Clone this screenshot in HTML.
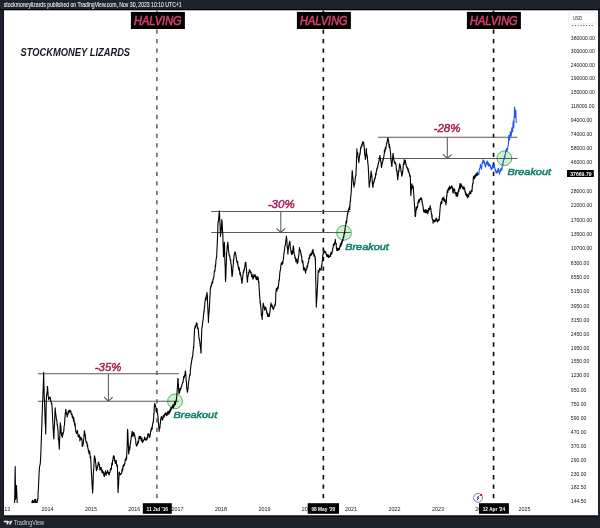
<!DOCTYPE html>
<html><head><meta charset="utf-8"><style>
html,body{margin:0;padding:0;}
body{width:600px;height:528px;overflow:hidden;background:#1e222d;position:relative;font-family:"Liberation Sans",sans-serif;}
svg{position:absolute;left:0;top:0;will-change:transform;}
.pl{font-size:5.1px;fill:#131722;}
.pb{font-size:5.3px;fill:#fff;font-weight:bold;}
.yl{font-size:5.4px;fill:#131722;text-anchor:middle;}
.gl{stroke:#585858;stroke-width:1.05;}
.pct{font-size:11.5px;fill:#a81b56;stroke:#a81b56;stroke-width:0.45;font-style:italic;}
.bo{font-size:9.7px;fill:#15806f;stroke:#15806f;stroke-width:0.55;font-style:italic;}
.hv{font-size:12.8px;fill:#d9416f;stroke:#d9416f;stroke-width:0.55;font-style:italic;}
.db{font-size:5.4px;fill:#fff;font-weight:bold;}
.ev{font-size:5px;fill:#9c27b0;font-weight:bold;}
.title{font-size:10.5px;fill:#131722;font-weight:bold;font-style:italic;}
.top{font-size:7.1px;fill:#e6e8ee;stroke:#e6e8ee;stroke-width:0.12;}
</style></head><body>
<svg width="600" height="528" viewBox="0 0 600 528">
<defs><clipPath id="pane"><rect x="4" y="10" width="594" height="493"/></clipPath></defs>
<rect x="0" y="0" width="600" height="528" fill="#1e222d"/>
<rect x="0" y="9" width="600" height="1.2" fill="#000"/>
<rect x="3.5" y="9.8" width="594.5" height="506.8" fill="#000"/>
<rect x="4" y="10.3" width="594" height="505" fill="#fff"/>
<text x="3.7" y="7.1" class="top" textLength="178" lengthAdjust="spacingAndGlyphs">stockmoneylizards published on TradingView.com, Nov 30, 2023 10:10 UTC+1</text>
<text x="570.8" y="39.5" class="pl">380000.00</text><text x="570.8" y="53.4" class="pl">300000.00</text><text x="570.8" y="66.5" class="pl">240000.00</text><text x="570.8" y="80.3" class="pl">190000.00</text><text x="570.8" y="94.2" class="pl">150000.00</text><text x="570.8" y="108.3" class="pl">118000.00</text><text x="570.8" y="121.7" class="pl">94000.00</text><text x="570.8" y="135.8" class="pl">74000.00</text><text x="570.8" y="150.1" class="pl">58000.00</text><text x="570.8" y="163.8" class="pl">46000.00</text><text x="570.8" y="193.0" class="pl">28000.00</text><text x="570.8" y="207.2" class="pl">22000.00</text><text x="570.8" y="222.3" class="pl">17000.00</text><text x="570.8" y="235.9" class="pl">13500.00</text><text x="570.8" y="249.6" class="pl">10700.00</text><text x="570.8" y="264.5" class="pl">8300.00</text><text x="570.8" y="278.5" class="pl">6550.00</text><text x="570.8" y="292.6" class="pl">5150.00</text><text x="570.8" y="308.2" class="pl">3950.00</text><text x="570.8" y="321.5" class="pl">3150.00</text><text x="570.8" y="336.3" class="pl">2450.00</text><text x="570.8" y="349.8" class="pl">1950.00</text><text x="570.8" y="363.3" class="pl">1550.00</text><text x="570.8" y="376.9" class="pl">1230.00</text><text x="570.8" y="392.1" class="pl">950.00</text><text x="570.8" y="406.0" class="pl">750.00</text><text x="570.8" y="420.1" class="pl">590.00</text><text x="570.8" y="433.5" class="pl">470.00</text><text x="570.8" y="447.6" class="pl">370.00</text><text x="570.8" y="461.9" class="pl">290.00</text><text x="570.8" y="475.5" class="pl">230.00</text><text x="570.8" y="489.2" class="pl">182.50</text><text x="570.8" y="502.9" class="pl">144.50</text><rect x="567" y="170" width="26.8" height="7" fill="#000"/><text x="570.2" y="175.9" class="pb" textLength="21.4" lengthAdjust="spacingAndGlyphs">37669.79</text><rect x="568.5" y="12.3" width="28" height="11.5" rx="1.5" fill="#fff" stroke="#e0e3eb" stroke-width="0.6"/><text x="572.9" y="19.9" class="pl" style="font-size:5.8px" textLength="9.2" lengthAdjust="spacingAndGlyphs">USD</text><line x1="572" y1="25.6" x2="594" y2="25.6" stroke="#555" stroke-width="0.9" stroke-dasharray="1.2 1.6"/><text x="4.2" y="511" class="yl">2013</text><text x="47.5" y="511" class="yl">2014</text><text x="90.9" y="511" class="yl">2015</text><text x="134.3" y="511" class="yl">2016</text><text x="177.6" y="511" class="yl">2017</text><text x="221.0" y="511" class="yl">2018</text><text x="264.4" y="511" class="yl">2019</text><text x="307.8" y="511" class="yl">2020</text><text x="351.1" y="511" class="yl">2021</text><text x="394.5" y="511" class="yl">2022</text><text x="437.9" y="511" class="yl">2023</text><text x="481.2" y="511" class="yl">2024</text><text x="524.6" y="511" class="yl">2025</text><line x1="156.9" y1="10.56" x2="156.9" y2="503" stroke="#686868" stroke-width="1.6" stroke-dasharray="4.3 5.18"/><line x1="323.35" y1="10.56" x2="323.35" y2="503" stroke="#080808" stroke-width="1.6" stroke-dasharray="4.3 5.18"/><line x1="493.55" y1="10.56" x2="493.55" y2="503" stroke="#080808" stroke-width="1.6" stroke-dasharray="4.3 5.18"/><circle cx="175" cy="401.4" r="7.4" fill="#cdf4cf" stroke="#3a9a4c" stroke-width="0.8"/><circle cx="344" cy="232.8" r="7.4" fill="#cdf4cf" stroke="#3a9a4c" stroke-width="0.8"/><circle cx="504.4" cy="158.3" r="7.4" fill="#cdf4cf" stroke="#3a9a4c" stroke-width="0.8"/><line x1="37.8" y1="373.8" x2="178.8" y2="373.8" class="gl"/><line x1="37.8" y1="401.2" x2="178.8" y2="401.2" class="gl"/><line x1="108.4" y1="373.8" x2="108.4" y2="401.2" class="gl"/><polyline points="104.10000000000001,397.09999999999997 108.4,401.2 112.7,397.09999999999997" class="gl" fill="none"/><line x1="211.25" y1="211.5" x2="350.5" y2="211.5" class="gl"/><line x1="211.25" y1="232.5" x2="350.5" y2="232.5" class="gl"/><line x1="280.8" y1="211.5" x2="280.8" y2="232.5" class="gl"/><polyline points="276.5,228.4 280.8,232.5 285.1,228.4" class="gl" fill="none"/><line x1="378" y1="137.3" x2="517.4" y2="137.3" class="gl"/><line x1="378" y1="158.4" x2="517.4" y2="158.4" class="gl"/><line x1="447.3" y1="137.3" x2="447.3" y2="158.4" class="gl"/><polyline points="443.0,154.3 447.3,158.4 451.6,154.3" class="gl" fill="none"/><g clip-path="url(#pane)"><path d="M4.0,560.8 L4.2,558.9 L4.3,559.7 L4.5,558.8 L4.6,558.0 L4.8,556.3 L4.9,556.3 L5.0,557.3 L5.2,556.4 L5.3,557.4 L5.5,556.0 L5.7,557.1 L5.8,556.5 L6.0,555.3 L6.1,555.5 L6.2,554.3 L6.4,554.0 L6.5,553.0 L6.7,549.3 L6.8,548.8 L7.0,547.2 L7.2,547.0 L7.3,546.4 L7.5,547.9 L7.6,545.4 L7.8,545.6 L7.9,545.8 L8.1,545.6 L8.2,545.4 L8.3,546.3 L8.5,547.3 L8.7,546.9 L8.8,545.5 L8.9,544.8 L9.1,543.0 L9.2,543.5 L9.4,543.2 L9.6,543.3 L9.7,541.9 L9.9,539.3 L10.0,540.2 L10.2,539.0 L10.3,538.8 L10.4,539.3 L10.6,537.4 L10.8,536.4 L10.9,536.8 L11.1,535.0 L11.2,534.1 L11.3,533.9 L11.5,533.7 L11.6,532.8 L11.8,532.0 L11.9,531.5 L12.1,531.2 L12.2,529.7 L12.4,532.0 L12.5,532.8 L12.7,533.0 L12.8,532.5 L13.0,529.2 L13.1,526.0 L13.3,523.2 L13.4,523.3 L13.6,520.9 L13.7,517.6 L13.9,515.1 L14.0,512.6 L14.2,510.5 L14.3,507.0 L14.5,505.9 L14.6,502.2 L14.8,493.2 L14.9,484.7 L15.0,476.3 L15.2,466.5 L15.3,477.0 L15.5,487.7 L15.6,499.5 L15.8,497.7 L15.9,495.4 L16.1,491.7 L16.2,488.9 L16.4,488.7 L16.5,485.6 L16.6,488.8 L16.8,492.1 L16.9,497.5 L17.1,497.9 L17.2,503.4 L17.4,509.8 L17.5,516.6 L17.7,525.2 L17.8,532.6 L18.0,540.2 L18.1,541.0 L18.3,540.6 L18.4,541.1 L18.6,541.3 L18.7,541.7 L18.9,542.2 L19.0,541.4 L19.2,539.2 L19.3,540.1 L19.5,539.2 L19.6,537.3 L19.8,537.9 L19.9,538.7 L20.1,538.5 L20.2,538.3 L20.4,537.2 L20.5,537.8 L20.7,536.9 L20.8,537.3 L21.0,538.2 L21.1,538.4 L21.3,540.3 L21.4,541.5 L21.6,539.8 L21.7,538.7 L21.9,540.1 L22.0,538.9 L22.2,539.6 L22.3,540.2 L22.5,539.1 L22.6,542.1 L22.8,539.8 L22.9,541.2 L23.1,543.2 L23.2,542.9 L23.4,541.5 L23.5,542.1 L23.7,542.2 L23.8,541.9 L24.0,541.6 L24.1,541.8 L24.3,542.6 L24.4,541.2 L24.6,542.3 L24.7,540.3 L24.9,540.3 L25.0,541.2 L25.2,541.1 L25.3,540.8 L25.5,540.7 L25.6,542.6 L25.8,542.8 L25.9,543.1 L26.1,541.4 L26.2,541.7 L26.4,541.3 L26.5,542.8 L26.7,541.7 L26.8,541.5 L27.0,542.0 L27.1,542.6 L27.3,542.8 L27.4,541.0 L27.6,540.7 L27.7,542.0 L27.9,541.2 L28.0,540.8 L28.2,539.7 L28.3,541.3 L28.5,542.6 L28.6,542.1 L28.8,541.3 L28.9,543.1 L29.1,542.5 L29.2,542.2 L29.4,541.4 L29.5,541.6 L29.7,539.3 L29.8,542.0 L30.0,541.9 L30.1,541.7 L30.3,542.3 L30.4,543.1 L30.6,541.1 L30.7,539.1 L30.9,539.1 L31.0,539.6 L31.1,534.1 L31.3,527.4 L31.4,522.5 L31.6,516.3 L31.7,511.1 L31.9,504.9 L32.0,501.6 L32.1,501.0 L32.3,501.5 L32.4,502.2 L32.6,500.2 L32.7,501.0 L32.9,502.7 L33.0,502.3 L33.2,501.9 L33.3,504.3 L33.5,504.1 L33.6,504.5 L33.8,502.1 L33.9,501.2 L34.1,500.4 L34.2,500.4 L34.4,500.0 L34.5,500.8 L34.7,500.6 L34.8,501.9 L35.0,499.2 L35.2,500.8 L35.3,499.6 L35.5,499.3 L35.6,502.4 L35.8,501.6 L35.9,502.9 L36.1,503.6 L36.2,503.7 L36.4,501.9 L36.5,501.9 L36.7,502.3 L36.8,502.2 L37.0,503.7 L37.1,502.5 L37.3,499.3 L37.4,500.8 L37.6,500.7 L37.7,499.4 L37.9,498.6 L38.0,496.5 L38.1,491.9 L38.3,489.9 L38.4,489.0 L38.6,484.4 L38.7,481.7 L38.9,477.9 L39.0,475.5 L39.1,472.5 L39.3,470.6 L39.4,468.8 L39.6,466.2 L39.7,466.1 L39.9,465.4 L40.0,465.0 L40.1,464.6 L40.3,463.4 L40.4,461.0 L40.6,458.9 L40.7,455.6 L40.9,452.0 L41.0,449.5 L41.1,445.7 L41.3,440.9 L41.4,438.0 L41.6,432.0 L41.7,429.1 L41.9,424.6 L42.0,419.4 L42.1,416.0 L42.3,410.4 L42.4,407.4 L42.6,401.7 L42.7,400.7 L42.9,396.9 L43.0,391.9 L43.2,389.0 L43.3,384.2 L43.5,379.4 L43.6,372.5 L43.8,378.3 L43.9,384.5 L44.1,389.1 L44.2,396.1 L44.4,399.5 L44.5,401.9 L44.7,406.4 L44.8,409.7 L45.0,415.4 L45.1,418.4 L45.2,421.7 L45.4,425.6 L45.6,426.9 L45.7,433.9 L45.9,425.3 L46.0,416.8 L46.1,408.5 L46.3,400.1 L46.4,397.6 L46.6,394.6 L46.8,394.9 L46.9,394.4 L47.0,392.3 L47.2,390.6 L47.4,386.4 L47.5,386.5 L47.6,387.2 L47.8,390.2 L48.0,392.7 L48.1,394.6 L48.2,396.3 L48.4,397.0 L48.6,399.1 L48.7,400.0 L48.9,397.8 L49.0,397.5 L49.2,397.8 L49.3,398.1 L49.5,398.2 L49.6,398.1 L49.8,397.4 L49.9,397.4 L50.1,397.1 L50.2,397.2 L50.4,398.3 L50.6,399.7 L50.7,400.9 L50.9,400.6 L51.0,401.3 L51.2,401.9 L51.3,403.1 L51.5,403.5 L51.6,404.0 L51.8,403.5 L51.9,405.9 L52.1,406.5 L52.2,409.5 L52.4,414.0 L52.5,415.3 L52.7,420.1 L52.8,420.9 L53.0,425.1 L53.1,427.9 L53.3,430.5 L53.4,433.0 L53.6,436.0 L53.7,437.7 L53.9,439.0 L54.0,434.5 L54.1,431.0 L54.3,428.0 L54.5,425.0 L54.6,422.4 L54.8,417.1 L54.9,412.5 L55.1,409.2 L55.2,407.9 L55.4,411.7 L55.5,411.4 L55.6,412.5 L55.8,414.9 L56.0,415.0 L56.1,417.1 L56.2,416.9 L56.4,419.5 L56.6,420.5 L56.7,419.9 L56.9,420.7 L57.0,422.3 L57.2,424.9 L57.3,424.2 L57.5,426.1 L57.6,426.1 L57.8,429.1 L57.9,430.3 L58.1,431.1 L58.2,435.0 L58.4,438.5 L58.5,439.9 L58.7,438.3 L58.9,442.7 L59.0,445.1 L59.1,445.5 L59.3,449.2 L59.4,446.8 L59.6,440.8 L59.7,437.6 L59.9,435.4 L60.0,431.3 L60.2,424.8 L60.3,422.8 L60.4,425.9 L60.6,427.3 L60.8,425.2 L60.9,428.1 L61.0,429.6 L61.2,433.4 L61.4,433.4 L61.5,434.3 L61.6,435.7 L61.8,433.0 L62.0,433.0 L62.1,433.5 L62.2,437.0 L62.4,437.4 L62.5,436.2 L62.7,435.6 L62.8,434.7 L63.0,433.8 L63.1,432.8 L63.3,432.7 L63.4,432.9 L63.6,431.9 L63.7,430.4 L63.9,430.7 L64.0,427.2 L64.2,426.0 L64.3,425.7 L64.5,424.8 L64.6,422.5 L64.8,419.6 L64.9,418.5 L65.0,417.3 L65.2,414.7 L65.3,412.8 L65.5,413.6 L65.6,411.2 L65.8,409.5 L65.9,409.4 L66.1,412.5 L66.2,413.4 L66.4,412.6 L66.5,414.3 L66.7,414.3 L66.8,414.7 L67.0,414.6 L67.1,416.9 L67.3,416.5 L67.4,415.4 L67.6,414.5 L67.7,415.2 L67.9,412.1 L68.0,411.8 L68.2,413.9 L68.3,411.9 L68.5,410.8 L68.6,411.7 L68.8,411.0 L69.0,412.1 L69.1,411.9 L69.3,411.5 L69.4,410.0 L69.6,410.6 L69.7,411.9 L69.9,412.2 L70.0,410.7 L70.2,410.4 L70.3,411.9 L70.5,410.7 L70.6,411.4 L70.8,411.1 L70.9,411.3 L71.1,413.1 L71.2,414.0 L71.4,414.6 L71.5,413.9 L71.7,414.1 L71.9,414.7 L72.0,413.7 L72.2,416.7 L72.3,417.7 L72.5,417.1 L72.6,416.8 L72.8,416.1 L72.9,418.3 L73.1,418.4 L73.2,417.5 L73.4,419.1 L73.5,421.3 L73.7,420.2 L73.8,417.8 L74.0,420.2 L74.2,421.5 L74.3,422.9 L74.5,423.9 L74.6,423.5 L74.8,425.7 L74.9,424.5 L75.0,423.0 L75.2,424.8 L75.4,427.9 L75.5,428.9 L75.7,429.6 L75.8,431.4 L75.9,431.3 L76.1,432.7 L76.2,432.6 L76.4,432.3 L76.5,433.5 L76.7,433.3 L76.8,432.3 L77.0,431.5 L77.1,431.8 L77.3,430.3 L77.4,431.4 L77.6,431.0 L77.7,432.8 L77.8,434.5 L78.0,434.4 L78.1,436.2 L78.3,435.7 L78.4,436.9 L78.6,437.0 L78.7,435.8 L78.9,435.7 L79.0,436.1 L79.2,434.9 L79.3,435.4 L79.5,436.8 L79.6,436.2 L79.8,438.1 L79.9,440.9 L80.1,438.0 L80.2,438.3 L80.4,437.1 L80.5,438.7 L80.7,438.0 L80.8,439.2 L81.0,438.7 L81.1,437.6 L81.3,439.6 L81.4,438.5 L81.6,438.4 L81.7,438.9 L81.9,439.0 L82.1,441.9 L82.2,445.8 L82.3,446.5 L82.5,445.9 L82.7,444.3 L82.8,446.1 L83.0,444.5 L83.1,444.3 L83.3,443.9 L83.4,441.2 L83.6,440.2 L83.7,439.8 L83.9,437.4 L84.0,434.5 L84.2,433.2 L84.3,431.2 L84.5,430.7 L84.7,431.7 L84.8,433.4 L85.0,435.6 L85.1,435.2 L85.3,434.8 L85.4,436.1 L85.6,438.1 L85.7,439.9 L85.9,440.9 L86.0,442.3 L86.2,442.4 L86.3,442.7 L86.5,442.8 L86.6,442.4 L86.8,442.0 L86.9,443.2 L87.1,444.5 L87.2,446.0 L87.4,446.6 L87.5,444.6 L87.7,445.2 L87.8,448.0 L88.0,448.9 L88.1,448.5 L88.3,449.9 L88.4,451.4 L88.6,451.7 L88.7,451.7 L88.9,451.6 L89.0,453.8 L89.2,453.6 L89.3,450.9 L89.5,453.1 L89.6,451.2 L89.8,452.5 L89.9,453.6 L90.1,455.6 L90.2,457.5 L90.4,457.9 L90.5,457.6 L90.7,456.9 L90.8,460.7 L91.0,463.3 L91.1,467.6 L91.3,469.2 L91.4,473.7 L91.6,474.9 L91.7,477.4 L91.9,480.4 L92.0,483.5 L92.2,486.3 L92.3,488.7 L92.5,489.9 L92.6,493.0 L92.8,489.7 L92.9,488.7 L93.0,485.2 L93.2,481.1 L93.3,474.7 L93.5,471.1 L93.6,469.8 L93.8,468.9 L93.9,464.2 L94.1,462.6 L94.2,459.6 L94.4,456.5 L94.5,455.7 L94.6,456.5 L94.8,456.4 L94.9,458.1 L95.1,458.2 L95.2,459.2 L95.4,460.2 L95.5,462.6 L95.7,463.2 L95.8,463.1 L96.0,466.9 L96.1,465.5 L96.3,468.5 L96.4,470.7 L96.5,468.7 L96.7,469.5 L96.8,467.7 L97.0,467.6 L97.1,469.7 L97.3,468.7 L97.4,467.4 L97.6,466.9 L97.7,465.3 L97.9,466.4 L98.0,465.0 L98.2,463.6 L98.3,462.0 L98.4,462.3 L98.6,462.3 L98.7,462.4 L98.9,463.6 L99.0,464.4 L99.2,464.1 L99.3,464.8 L99.5,464.9 L99.6,467.1 L99.8,468.1 L99.9,469.9 L100.1,468.6 L100.2,467.5 L100.4,469.6 L100.5,468.3 L100.7,469.7 L100.8,468.7 L101.0,469.1 L101.1,467.3 L101.2,469.3 L101.4,469.1 L101.5,468.9 L101.7,470.4 L101.8,470.6 L102.0,472.6 L102.2,472.2 L102.3,470.4 L102.5,472.5 L102.6,472.9 L102.8,470.9 L102.9,471.8 L103.1,471.7 L103.2,472.6 L103.4,473.2 L103.5,472.6 L103.7,474.0 L103.8,475.7 L104.0,476.0 L104.1,475.1 L104.3,476.2 L104.4,476.5 L104.6,473.0 L104.7,474.4 L104.9,473.2 L105.0,473.6 L105.2,472.7 L105.3,473.1 L105.5,470.7 L105.6,471.5 L105.8,471.9 L105.9,474.3 L106.1,475.5 L106.2,475.0 L106.4,472.9 L106.5,473.4 L106.7,473.0 L106.8,473.0 L106.9,472.9 L107.1,472.7 L107.2,472.5 L107.4,472.1 L107.5,470.4 L107.7,470.8 L107.8,471.3 L108.0,473.2 L108.1,472.9 L108.3,473.0 L108.4,472.5 L108.6,474.3 L108.7,474.0 L108.8,473.7 L109.0,474.0 L109.1,472.7 L109.3,475.0 L109.4,472.5 L109.6,472.5 L109.7,472.8 L109.9,472.8 L110.0,471.9 L110.2,470.9 L110.3,470.3 L110.5,469.0 L110.6,468.6 L110.8,470.1 L110.9,469.6 L111.1,469.6 L111.2,469.6 L111.4,468.2 L111.5,467.2 L111.6,466.2 L111.8,463.1 L111.9,464.1 L112.1,463.8 L112.2,463.1 L112.4,464.7 L112.5,461.1 L112.7,460.2 L112.8,460.5 L113.0,460.4 L113.1,457.2 L113.3,458.2 L113.4,456.3 L113.5,455.8 L113.7,456.4 L113.8,455.6 L114.0,456.3 L114.1,456.5 L114.3,457.2 L114.4,458.1 L114.6,460.9 L114.7,461.0 L114.9,460.1 L115.0,460.8 L115.2,462.1 L115.3,463.4 L115.5,462.4 L115.6,462.6 L115.8,461.6 L115.9,462.6 L116.1,463.0 L116.2,460.2 L116.4,462.5 L116.5,464.2 L116.7,464.8 L116.8,466.2 L117.0,465.5 L117.1,464.9 L117.3,465.1 L117.5,468.2 L117.6,475.0 L117.8,480.6 L117.9,488.0 L118.1,492.4 L118.2,489.7 L118.4,486.8 L118.5,484.9 L118.7,483.5 L118.8,478.4 L119.0,476.7 L119.1,472.5 L119.2,472.5 L119.4,472.0 L119.5,472.9 L119.7,474.7 L119.8,475.0 L120.0,474.5 L120.1,473.9 L120.3,474.8 L120.4,474.8 L120.6,474.3 L120.7,473.7 L120.9,473.8 L121.0,474.0 L121.2,473.8 L121.3,473.8 L121.5,473.1 L121.6,473.6 L121.8,471.4 L121.9,471.0 L122.1,469.5 L122.2,470.1 L122.4,468.3 L122.5,471.0 L122.7,470.2 L122.8,469.0 L123.0,466.3 L123.1,465.6 L123.3,466.6 L123.4,465.3 L123.6,465.9 L123.7,466.3 L123.9,464.3 L124.0,464.7 L124.2,464.2 L124.3,464.8 L124.5,465.1 L124.6,463.4 L124.8,463.7 L124.9,463.4 L125.1,461.0 L125.2,459.6 L125.4,459.6 L125.5,459.4 L125.7,459.6 L125.8,459.6 L126.0,457.8 L126.1,460.2 L126.3,459.0 L126.4,459.2 L126.6,458.2 L126.7,456.4 L126.8,452.9 L127.0,449.1 L127.2,444.5 L127.3,440.6 L127.4,432.4 L127.6,429.2 L127.7,431.1 L127.9,433.6 L128.0,436.9 L128.2,441.5 L128.3,444.4 L128.5,447.2 L128.6,453.4 L128.7,453.9 L128.9,452.0 L129.0,449.5 L129.2,450.3 L129.3,451.0 L129.5,446.9 L129.6,449.3 L129.8,449.4 L129.9,448.1 L130.1,446.1 L130.2,444.7 L130.4,443.1 L130.5,443.6 L130.7,441.1 L130.8,440.7 L130.9,439.9 L131.1,439.1 L131.2,436.4 L131.4,436.6 L131.6,435.0 L131.7,434.9 L131.9,433.3 L132.0,432.7 L132.2,431.4 L132.3,433.1 L132.5,431.7 L132.6,434.5 L132.8,436.4 L132.9,435.2 L133.1,436.5 L133.2,434.6 L133.4,433.1 L133.5,434.1 L133.7,433.7 L133.8,432.4 L134.0,433.7 L134.1,433.7 L134.3,433.4 L134.4,435.4 L134.6,435.5 L134.8,435.2 L134.9,436.0 L135.0,437.6 L135.2,437.9 L135.3,438.3 L135.5,439.4 L135.7,439.8 L135.8,442.3 L135.9,443.4 L136.1,444.7 L136.3,445.2 L136.4,445.5 L136.6,445.2 L136.7,446.1 L136.9,445.0 L137.0,444.8 L137.2,444.2 L137.3,444.9 L137.5,443.1 L137.6,444.1 L137.8,442.7 L137.9,441.2 L138.1,443.4 L138.2,441.5 L138.4,442.6 L138.5,441.3 L138.7,441.0 L138.8,438.7 L139.0,437.7 L139.1,436.4 L139.3,436.3 L139.4,437.7 L139.6,438.8 L139.7,437.7 L139.9,437.7 L140.0,436.6 L140.2,437.7 L140.3,437.2 L140.5,438.1 L140.6,436.4 L140.8,438.4 L140.9,438.7 L141.1,439.5 L141.2,440.8 L141.4,440.0 L141.5,439.9 L141.7,440.6 L141.8,441.5 L142.0,437.8 L142.1,440.6 L142.3,441.7 L142.4,441.7 L142.6,442.7 L142.7,442.4 L142.9,441.3 L143.0,440.9 L143.2,440.7 L143.3,441.1 L143.5,440.8 L143.6,440.0 L143.8,439.9 L143.9,439.5 L144.1,439.5 L144.2,439.4 L144.4,439.4 L144.5,437.1 L144.7,437.2 L144.8,438.3 L145.0,440.0 L145.1,439.0 L145.3,438.2 L145.4,438.6 L145.6,439.8 L145.7,439.0 L145.9,439.3 L146.0,440.3 L146.2,440.3 L146.3,439.0 L146.5,439.9 L146.6,439.2 L146.8,439.0 L146.9,437.5 L147.1,438.6 L147.2,439.1 L147.4,438.2 L147.5,437.6 L147.6,435.8 L147.8,434.1 L147.9,433.9 L148.1,434.3 L148.2,434.9 L148.4,434.1 L148.5,433.8 L148.7,434.7 L148.8,433.9 L149.0,436.6 L149.1,437.5 L149.3,435.9 L149.4,436.4 L149.6,435.8 L149.7,435.9 L149.9,437.2 L150.0,436.0 L150.2,434.1 L150.3,434.8 L150.4,433.6 L150.6,431.6 L150.7,430.3 L150.9,430.1 L151.0,430.6 L151.2,431.0 L151.3,428.5 L151.5,428.2 L151.6,428.5 L151.8,427.2 L151.9,427.7 L152.1,428.3 L152.2,429.2 L152.4,424.9 L152.5,425.2 L152.7,423.7 L152.8,423.2 L153.0,422.8 L153.1,421.6 L153.3,422.4 L153.4,419.8 L153.6,419.3 L153.8,414.2 L153.9,413.1 L154.1,413.2 L154.2,408.1 L154.4,406.6 L154.5,404.8 L154.7,403.2 L154.8,404.0 L155.0,403.8 L155.1,404.8 L155.3,405.7 L155.4,405.5 L155.6,406.7 L155.7,406.7 L155.9,407.9 L156.0,410.0 L156.2,410.8 L156.3,411.8 L156.5,410.5 L156.6,410.9 L156.7,409.4 L156.9,408.4 L157.0,412.1 L157.2,411.7 L157.3,412.8 L157.5,412.9 L157.6,413.4 L157.8,415.3 L157.9,415.8 L158.0,417.2 L158.2,419.6 L158.3,422.7 L158.5,423.7 L158.6,425.1 L158.8,427.9 L158.9,428.2 L159.1,431.3 L159.2,431.0 L159.3,427.9 L159.5,427.7 L159.6,428.2 L159.8,428.3 L159.9,427.8 L160.1,425.1 L160.2,423.4 L160.4,423.9 L160.5,421.9 L160.7,418.9 L160.8,419.1 L160.9,419.4 L161.1,418.1 L161.2,417.0 L161.4,416.5 L161.5,417.3 L161.7,417.0 L161.8,417.9 L162.0,419.3 L162.1,418.2 L162.3,417.8 L162.4,419.1 L162.6,418.0 L162.7,420.3 L162.9,417.9 L163.0,418.3 L163.2,417.2 L163.3,415.5 L163.5,416.5 L163.6,416.6 L163.8,417.2 L163.9,415.9 L164.1,414.8 L164.2,417.0 L164.4,416.1 L164.5,414.9 L164.7,414.6 L164.8,415.2 L165.0,414.4 L165.1,413.2 L165.3,413.8 L165.4,414.5 L165.6,413.5 L165.7,414.2 L165.9,412.7 L166.0,413.3 L166.2,414.3 L166.3,413.9 L166.5,415.6 L166.6,414.1 L166.8,413.3 L166.9,415.4 L167.1,414.8 L167.2,415.1 L167.4,414.5 L167.5,412.3 L167.7,411.8 L167.8,413.2 L168.0,412.4 L168.1,411.7 L168.3,412.2 L168.4,412.4 L168.6,411.6 L168.7,414.2 L168.9,414.3 L169.0,413.4 L169.2,412.4 L169.3,411.6 L169.5,410.0 L169.6,410.1 L169.8,412.3 L169.9,412.6 L170.1,410.9 L170.2,410.8 L170.3,410.9 L170.5,410.6 L170.6,409.5 L170.8,407.6 L170.9,409.4 L171.1,409.9 L171.2,409.1 L171.4,408.7 L171.5,408.1 L171.7,407.7 L171.8,407.3 L172.0,406.8 L172.1,407.2 L172.3,407.8 L172.4,406.3 L172.6,405.6 L172.7,405.6 L172.9,404.9 L173.0,406.1 L173.2,405.8 L173.3,408.1 L173.5,407.5 L173.6,406.8 L173.8,406.4 L173.9,406.8 L174.1,403.7 L174.2,405.3 L174.4,403.6 L174.5,403.4 L174.7,402.0 L174.8,402.4 L175.0,401.4 L175.1,401.8 L175.3,402.6 L175.4,404.6 L175.6,402.9 L175.7,402.6 L175.9,402.0 L176.0,400.8 L176.2,400.6 L176.3,399.6 L176.5,398.7 L176.6,397.4 L176.8,395.9 L176.9,394.3 L177.0,392.7 L177.2,390.3 L177.3,388.3 L177.5,386.3 L177.6,384.1 L177.8,380.1 L177.9,378.2 L178.1,379.4 L178.2,382.8 L178.4,384.2 L178.5,386.6 L178.7,390.2 L178.8,392.5 L178.9,393.3 L179.1,393.7 L179.2,392.4 L179.4,391.2 L179.5,392.9 L179.7,391.8 L179.8,390.3 L180.0,388.4 L180.1,390.7 L180.3,390.3 L180.4,389.5 L180.6,388.3 L180.7,388.2 L180.8,388.6 L181.0,388.6 L181.1,387.5 L181.3,386.6 L181.4,386.7 L181.6,386.3 L181.8,385.4 L181.9,385.1 L182.0,384.3 L182.2,384.4 L182.3,383.8 L182.5,382.9 L182.7,382.5 L182.8,382.5 L182.9,381.9 L183.1,382.4 L183.2,380.7 L183.4,379.3 L183.5,379.1 L183.7,376.3 L183.8,378.2 L184.0,377.8 L184.2,377.1 L184.3,376.6 L184.4,377.1 L184.6,375.2 L184.8,375.7 L184.9,374.7 L185.1,373.3 L185.2,371.6 L185.3,371.1 L185.5,371.0 L185.7,372.7 L185.8,374.5 L185.9,375.3 L186.1,379.3 L186.2,381.0 L186.4,381.4 L186.6,384.6 L186.7,388.2 L186.9,388.2 L187.0,388.9 L187.2,390.5 L187.3,392.3 L187.5,391.8 L187.6,391.2 L187.8,389.8 L187.9,387.8 L188.1,387.9 L188.2,387.3 L188.4,383.5 L188.5,382.5 L188.7,381.9 L188.8,380.5 L189.0,380.5 L189.1,378.3 L189.3,376.9 L189.4,376.9 L189.6,376.1 L189.7,375.4 L189.9,374.2 L190.0,374.5 L190.2,374.9 L190.4,369.7 L190.5,369.1 L190.7,368.0 L190.8,366.1 L191.0,365.9 L191.1,363.2 L191.3,363.6 L191.4,362.9 L191.6,362.0 L191.7,360.4 L191.9,359.4 L192.0,357.9 L192.2,359.0 L192.3,357.3 L192.5,357.2 L192.6,355.6 L192.8,355.6 L192.9,353.8 L193.1,351.1 L193.2,350.0 L193.4,349.1 L193.5,346.4 L193.7,347.8 L193.8,345.6 L193.9,343.1 L194.1,339.3 L194.2,336.5 L194.4,332.7 L194.5,329.2 L194.7,328.8 L194.8,327.7 L195.0,328.4 L195.1,325.7 L195.3,326.4 L195.4,327.8 L195.6,325.8 L195.7,327.0 L195.9,325.6 L196.0,325.3 L196.2,324.6 L196.3,322.9 L196.5,324.2 L196.7,323.8 L196.8,324.1 L197.0,323.4 L197.1,324.3 L197.3,326.7 L197.4,327.3 L197.6,328.6 L197.7,328.6 L197.9,329.1 L198.0,327.6 L198.2,328.4 L198.3,329.6 L198.5,331.6 L198.7,334.5 L198.8,336.3 L199.0,337.8 L199.1,339.2 L199.3,338.5 L199.4,339.4 L199.6,340.4 L199.7,341.3 L199.9,343.7 L200.0,342.2 L200.2,346.6 L200.3,345.9 L200.5,346.9 L200.6,349.3 L200.8,349.7 L200.9,352.9 L201.1,352.9 L201.2,345.4 L201.4,341.3 L201.5,336.1 L201.7,333.1 L201.8,327.8 L202.0,327.8 L202.1,327.2 L202.3,326.8 L202.4,325.2 L202.6,323.1 L202.7,321.8 L202.9,320.3 L203.0,320.4 L203.2,318.8 L203.3,317.5 L203.5,314.9 L203.6,313.9 L203.8,313.5 L203.9,311.1 L204.1,312.0 L204.2,309.2 L204.4,307.8 L204.5,307.5 L204.7,306.3 L204.8,304.0 L205.0,301.8 L205.1,300.9 L205.3,300.1 L205.4,298.5 L205.6,297.8 L205.7,299.7 L205.9,299.4 L206.0,300.3 L206.2,297.1 L206.3,295.5 L206.5,296.3 L206.6,295.9 L206.8,293.4 L206.9,292.6 L207.1,293.0 L207.2,294.6 L207.4,296.9 L207.5,301.3 L207.7,303.7 L207.8,306.8 L208.0,311.2 L208.1,314.3 L208.3,318.7 L208.4,322.6 L208.5,319.1 L208.7,315.8 L208.8,314.2 L209.0,313.3 L209.1,311.9 L209.3,309.5 L209.4,308.2 L209.6,304.1 L209.7,302.8 L209.8,299.5 L210.0,296.4 L210.2,293.5 L210.3,289.1 L210.4,288.9 L210.6,287.1 L210.7,288.2 L210.9,285.9 L211.0,286.1 L211.2,286.3 L211.3,286.3 L211.5,285.8 L211.6,284.0 L211.8,282.8 L211.9,282.8 L212.1,283.8 L212.2,281.6 L212.4,283.4 L212.5,282.7 L212.7,282.6 L212.8,280.9 L213.0,279.6 L213.1,280.1 L213.2,278.5 L213.4,278.1 L213.5,278.7 L213.7,277.3 L213.8,277.2 L214.0,276.4 L214.1,273.8 L214.3,272.8 L214.4,270.9 L214.6,271.6 L214.7,271.3 L214.9,271.2 L215.0,270.3 L215.2,268.4 L215.3,265.2 L215.5,266.6 L215.6,264.6 L215.8,263.8 L215.9,260.6 L216.1,260.1 L216.2,259.2 L216.4,257.1 L216.5,257.6 L216.7,256.6 L216.9,251.3 L217.0,248.9 L217.2,245.4 L217.3,241.7 L217.5,237.9 L217.6,235.8 L217.8,231.4 L217.9,225.1 L218.1,222.1 L218.2,221.1 L218.4,221.5 L218.5,220.3 L218.7,218.7 L218.8,216.5 L219.0,214.9 L219.1,213.0 L219.3,212.6 L219.4,210.8 L219.6,215.5 L219.7,219.4 L219.9,221.5 L220.0,224.1 L220.2,227.2 L220.3,231.8 L220.5,236.5 L220.6,234.9 L220.8,234.0 L220.9,232.5 L221.1,231.6 L221.2,230.1 L221.4,226.8 L221.5,225.2 L221.7,222.5 L221.8,219.6 L222.0,221.5 L222.1,221.4 L222.2,224.6 L222.4,228.4 L222.5,230.5 L222.7,231.8 L222.9,236.6 L223.0,243.6 L223.2,246.9 L223.3,250.7 L223.5,256.8 L223.7,252.5 L223.8,250.7 L223.9,248.5 L224.1,246.6 L224.2,243.6 L224.4,242.2 L224.6,247.3 L224.7,254.0 L224.8,258.6 L225.0,263.6 L225.2,266.8 L225.3,272.8 L225.4,279.1 L225.6,281.5 L225.7,279.0 L225.9,275.2 L226.0,271.2 L226.2,266.1 L226.3,262.4 L226.5,258.0 L226.6,252.5 L226.8,252.1 L226.9,251.5 L227.1,247.7 L227.2,248.3 L227.3,245.3 L227.5,244.3 L227.7,243.1 L227.8,242.1 L228.0,244.3 L228.1,244.3 L228.3,247.3 L228.4,249.5 L228.6,250.9 L228.7,251.2 L228.9,253.7 L229.0,253.4 L229.2,255.2 L229.3,255.9 L229.5,256.2 L229.7,255.6 L229.8,256.7 L230.0,258.2 L230.1,258.8 L230.3,260.4 L230.4,260.2 L230.6,259.7 L230.7,260.0 L230.9,264.1 L231.0,263.7 L231.2,264.5 L231.4,266.1 L231.5,268.9 L231.7,271.9 L231.8,273.7 L232.0,276.5 L232.2,276.3 L232.3,274.7 L232.5,273.7 L232.6,273.5 L232.8,269.7 L232.9,267.7 L233.1,266.3 L233.2,265.0 L233.4,263.5 L233.5,259.2 L233.7,259.9 L233.9,258.0 L234.0,256.5 L234.2,254.9 L234.3,255.5 L234.5,253.4 L234.6,253.9 L234.8,253.7 L234.9,251.8 L235.1,251.8 L235.2,253.3 L235.4,252.4 L235.6,253.6 L235.7,254.2 L235.9,255.1 L236.0,255.7 L236.2,258.5 L236.3,257.7 L236.5,259.3 L236.6,260.5 L236.8,261.5 L236.9,261.0 L237.1,261.1 L237.2,262.9 L237.4,261.7 L237.6,261.4 L237.7,262.1 L237.8,265.1 L238.0,264.5 L238.2,267.0 L238.3,267.4 L238.4,266.3 L238.6,268.7 L238.8,269.9 L238.9,270.1 L239.1,270.1 L239.2,267.5 L239.4,269.6 L239.5,269.7 L239.7,272.1 L239.8,274.0 L240.0,274.2 L240.1,274.8 L240.3,273.6 L240.4,272.7 L240.6,274.9 L240.7,275.9 L240.9,276.1 L241.0,275.8 L241.2,277.7 L241.3,279.2 L241.5,279.5 L241.6,281.0 L241.8,280.3 L241.9,283.5 L242.1,282.5 L242.2,282.3 L242.3,279.9 L242.5,278.8 L242.7,277.7 L242.8,276.2 L242.9,275.2 L243.1,274.1 L243.2,273.0 L243.4,271.3 L243.6,272.6 L243.7,270.1 L243.8,271.0 L244.0,270.0 L244.2,270.4 L244.3,269.2 L244.5,268.1 L244.6,268.3 L244.8,266.4 L244.9,266.8 L245.1,264.0 L245.2,262.7 L245.4,263.1 L245.5,263.0 L245.7,262.8 L245.9,262.3 L246.0,265.2 L246.2,267.4 L246.3,268.3 L246.5,270.0 L246.6,272.4 L246.8,274.9 L246.9,275.8 L247.1,279.0 L247.2,279.4 L247.4,282.1 L247.6,280.8 L247.7,278.3 L247.9,275.9 L248.0,276.6 L248.2,275.8 L248.3,274.8 L248.5,273.0 L248.6,272.5 L248.8,272.6 L248.9,273.1 L249.1,272.3 L249.2,270.0 L249.4,270.7 L249.5,270.4 L249.7,269.5 L249.8,270.4 L250.0,270.9 L250.1,270.8 L250.3,272.1 L250.4,271.3 L250.6,272.8 L250.7,272.1 L250.9,271.9 L251.0,273.2 L251.2,272.6 L251.3,274.7 L251.5,276.7 L251.6,276.2 L251.8,274.9 L251.9,275.0 L252.1,274.4 L252.2,274.4 L252.3,276.9 L252.5,276.3 L252.7,277.9 L252.8,278.0 L253.0,279.3 L253.1,276.4 L253.3,278.2 L253.4,277.3 L253.6,278.0 L253.7,276.9 L253.9,275.4 L254.0,274.4 L254.2,275.9 L254.3,275.2 L254.5,275.8 L254.6,276.1 L254.8,275.5 L254.9,275.4 L255.1,275.0 L255.2,276.9 L255.4,275.1 L255.5,276.3 L255.7,275.8 L255.8,278.2 L256.0,277.8 L256.1,278.3 L256.3,279.5 L256.4,279.6 L256.6,278.8 L256.7,279.4 L256.9,278.0 L257.0,276.5 L257.2,278.2 L257.3,279.0 L257.5,279.8 L257.6,278.2 L257.8,277.3 L257.9,278.2 L258.1,277.2 L258.2,277.9 L258.4,280.4 L258.5,280.7 L258.6,282.4 L258.8,281.2 L259.0,284.7 L259.1,288.3 L259.2,289.4 L259.4,291.9 L259.5,295.2 L259.7,296.2 L259.8,297.7 L260.0,299.6 L260.1,302.5 L260.2,301.0 L260.4,304.1 L260.5,303.4 L260.7,305.9 L260.8,307.4 L261.0,308.7 L261.1,310.3 L261.3,314.2 L261.4,315.2 L261.6,315.7 L261.7,314.8 L261.9,314.4 L262.0,317.9 L262.2,319.5 L262.3,315.4 L262.5,314.6 L262.6,313.6 L262.8,309.5 L262.9,307.2 L263.1,305.4 L263.2,303.0 L263.4,304.4 L263.5,304.4 L263.7,305.2 L263.8,306.3 L264.0,306.4 L264.1,307.7 L264.3,307.9 L264.4,308.7 L264.6,310.3 L264.7,309.2 L264.9,309.4 L265.0,307.2 L265.2,309.3 L265.3,308.0 L265.5,307.2 L265.6,307.0 L265.8,308.2 L265.9,309.1 L266.1,308.7 L266.2,308.7 L266.4,310.1 L266.6,311.6 L266.7,313.0 L266.9,311.9 L267.0,314.0 L267.2,314.1 L267.3,313.7 L267.5,313.4 L267.6,315.8 L267.8,316.6 L267.9,316.2 L268.1,315.7 L268.2,314.1 L268.4,316.3 L268.5,315.7 L268.7,315.9 L268.8,315.5 L269.0,316.5 L269.1,315.9 L269.3,316.4 L269.4,315.1 L269.6,313.6 L269.7,312.6 L269.9,312.3 L270.0,311.1 L270.2,308.8 L270.3,307.8 L270.5,307.0 L270.6,305.6 L270.8,304.7 L270.9,305.2 L271.0,302.8 L271.2,304.1 L271.3,306.6 L271.5,305.7 L271.6,305.7 L271.8,306.0 L271.9,304.9 L272.1,305.2 L272.2,306.0 L272.4,305.9 L272.5,307.4 L272.6,307.8 L272.8,308.4 L272.9,308.4 L273.1,309.5 L273.2,307.9 L273.4,309.4 L273.6,308.7 L273.7,307.4 L273.9,308.4 L274.0,307.7 L274.1,307.6 L274.3,306.3 L274.4,305.8 L274.6,305.7 L274.8,305.7 L274.9,304.4 L275.1,303.7 L275.2,305.5 L275.4,303.5 L275.5,302.5 L275.7,298.9 L275.8,293.8 L276.0,291.7 L276.2,290.1 L276.3,288.5 L276.5,289.2 L276.6,289.2 L276.8,289.1 L276.9,291.2 L277.1,290.1 L277.2,288.6 L277.4,287.0 L277.5,288.5 L277.7,288.3 L277.8,287.6 L278.0,288.7 L278.1,287.6 L278.3,287.1 L278.4,286.0 L278.6,284.4 L278.8,283.0 L278.9,280.2 L279.1,280.0 L279.2,280.7 L279.4,279.4 L279.5,277.2 L279.6,276.6 L279.8,272.9 L279.9,272.6 L280.1,270.6 L280.2,270.8 L280.4,270.1 L280.5,269.4 L280.6,268.3 L280.8,266.6 L280.9,265.1 L281.1,264.7 L281.2,263.2 L281.4,262.9 L281.6,263.8 L281.7,263.1 L281.9,264.5 L282.0,264.5 L282.2,261.7 L282.3,264.0 L282.5,263.8 L282.6,263.9 L282.8,263.7 L282.9,261.3 L283.1,261.0 L283.2,260.3 L283.4,258.8 L283.5,258.2 L283.7,256.3 L283.8,253.8 L284.0,253.8 L284.1,252.8 L284.3,251.2 L284.4,249.3 L284.6,249.3 L284.7,247.5 L284.9,246.6 L285.0,245.5 L285.2,245.7 L285.3,245.5 L285.5,244.7 L285.6,242.3 L285.8,240.9 L285.9,240.8 L286.1,239.1 L286.2,238.5 L286.4,236.0 L286.5,238.7 L286.7,237.9 L286.8,239.9 L287.0,242.9 L287.1,245.5 L287.3,248.1 L287.4,246.6 L287.6,248.4 L287.8,253.6 L287.9,254.1 L288.0,252.6 L288.2,249.4 L288.3,248.4 L288.5,249.3 L288.6,247.8 L288.8,245.1 L288.9,245.7 L289.1,244.4 L289.2,244.1 L289.4,242.4 L289.5,242.3 L289.7,242.2 L289.8,241.1 L289.9,243.5 L290.1,243.1 L290.2,246.8 L290.4,247.5 L290.5,248.9 L290.7,249.9 L290.8,249.5 L291.0,251.5 L291.1,252.5 L291.3,252.9 L291.4,252.3 L291.6,254.5 L291.7,252.5 L291.8,251.5 L292.0,251.0 L292.1,252.0 L292.3,253.2 L292.4,253.6 L292.6,253.8 L292.7,252.8 L292.9,251.7 L293.0,248.6 L293.2,246.4 L293.3,245.9 L293.5,246.9 L293.6,248.4 L293.7,248.4 L293.9,252.1 L294.0,252.5 L294.2,253.6 L294.3,254.4 L294.5,255.7 L294.6,255.1 L294.8,255.6 L294.9,257.4 L295.1,258.2 L295.2,257.1 L295.4,257.2 L295.5,258.7 L295.6,258.6 L295.8,260.1 L295.9,261.8 L296.1,260.5 L296.2,258.9 L296.4,260.0 L296.6,259.9 L296.7,260.7 L296.9,259.4 L297.0,261.0 L297.2,263.6 L297.3,263.3 L297.5,261.5 L297.6,262.3 L297.8,262.7 L297.9,261.4 L298.1,261.4 L298.2,258.4 L298.4,258.3 L298.5,256.7 L298.7,255.5 L298.8,255.0 L299.0,253.3 L299.1,251.0 L299.3,250.3 L299.4,247.5 L299.6,250.1 L299.7,249.9 L299.9,249.5 L300.0,250.0 L300.2,250.1 L300.3,250.0 L300.5,252.1 L300.6,251.7 L300.8,253.0 L300.9,253.2 L301.1,254.2 L301.2,255.7 L301.4,254.8 L301.5,256.2 L301.7,257.1 L301.8,259.0 L302.0,261.5 L302.1,261.4 L302.2,260.2 L302.4,262.6 L302.5,262.5 L302.7,260.6 L302.8,261.2 L303.0,262.1 L303.1,263.8 L303.3,266.0 L303.4,267.9 L303.6,270.0 L303.7,269.8 L303.9,267.4 L304.0,269.0 L304.1,269.5 L304.3,270.1 L304.4,268.0 L304.6,267.9 L304.7,267.7 L304.9,268.7 L305.0,269.7 L305.2,270.6 L305.3,271.6 L305.5,271.0 L305.6,273.3 L305.8,269.7 L305.9,270.8 L306.0,269.7 L306.2,269.1 L306.3,269.1 L306.5,269.9 L306.6,269.6 L306.8,268.2 L306.9,267.4 L307.1,265.6 L307.2,265.7 L307.4,265.3 L307.5,267.3 L307.7,265.1 L307.8,264.5 L307.9,263.3 L308.1,263.4 L308.2,263.4 L308.4,261.2 L308.5,261.2 L308.7,261.2 L308.8,258.7 L309.0,257.7 L309.1,258.1 L309.3,257.5 L309.4,258.2 L309.6,258.4 L309.7,255.8 L309.9,254.8 L310.0,255.3 L310.2,254.3 L310.3,254.6 L310.5,254.7 L310.6,256.0 L310.7,254.6 L310.9,254.2 L311.0,253.3 L311.2,255.1 L311.3,255.1 L311.5,254.6 L311.6,253.6 L311.8,254.2 L311.9,253.5 L312.1,251.4 L312.2,253.8 L312.4,250.7 L312.5,250.2 L312.7,251.0 L312.8,250.9 L313.0,249.4 L313.1,250.1 L313.2,251.8 L313.4,252.5 L313.5,254.1 L313.7,253.2 L313.8,253.8 L314.0,254.9 L314.1,256.1 L314.3,255.0 L314.4,255.8 L314.6,254.8 L314.7,256.4 L314.9,256.2 L315.0,256.6 L315.2,259.4 L315.3,257.2 L315.4,263.0 L315.6,269.0 L315.7,277.1 L315.9,283.4 L316.0,291.2 L316.2,299.8 L316.3,307.1 L316.4,303.5 L316.6,302.9 L316.7,300.2 L316.9,298.0 L317.0,295.6 L317.2,293.3 L317.3,289.5 L317.5,287.1 L317.6,284.2 L317.8,282.7 L317.9,277.8 L318.1,274.2 L318.2,271.9 L318.3,270.4 L318.5,271.6 L318.6,271.7 L318.8,270.5 L318.9,270.8 L319.1,272.1 L319.2,271.0 L319.4,270.0 L319.5,269.3 L319.7,268.4 L319.8,268.5 L320.0,269.3 L320.1,269.0 L320.3,269.4 L320.4,269.5 L320.6,269.5 L320.7,269.0 L320.9,269.5 L321.0,270.4 L321.1,269.6 L321.3,269.5 L321.4,265.7 L321.6,265.9 L321.7,266.4 L321.9,265.0 L322.0,263.8 L322.2,261.0 L322.3,261.8 L322.5,260.1 L322.6,257.3 L322.8,256.2 L322.9,254.3 L323.1,254.3 L323.2,253.6 L323.4,252.0 L323.5,253.0 L323.7,253.1 L323.8,253.2 L324.0,252.2 L324.1,252.5 L324.3,250.5 L324.4,250.9 L324.6,252.1 L324.7,251.7 L324.9,251.9 L325.0,252.0 L325.2,252.6 L325.3,252.8 L325.5,252.4 L325.6,251.5 L325.8,252.9 L325.9,253.6 L326.1,253.9 L326.2,253.7 L326.4,255.1 L326.5,255.3 L326.7,255.2 L326.8,254.4 L327.0,256.7 L327.1,256.6 L327.3,255.1 L327.4,255.9 L327.6,256.2 L327.7,256.2 L327.8,256.1 L328.0,254.9 L328.1,254.5 L328.3,256.7 L328.4,255.7 L328.6,257.4 L328.7,255.6 L328.9,256.9 L329.0,257.3 L329.2,256.1 L329.3,257.3 L329.5,256.9 L329.6,256.8 L329.8,255.9 L329.9,255.7 L330.1,256.5 L330.2,256.1 L330.4,256.3 L330.5,256.1 L330.6,254.2 L330.8,253.2 L330.9,253.1 L331.1,252.2 L331.2,252.8 L331.4,253.6 L331.5,254.5 L331.7,254.2 L331.8,253.4 L332.0,253.4 L332.1,252.6 L332.3,251.1 L332.4,250.6 L332.6,250.8 L332.7,248.1 L332.9,248.2 L333.0,248.1 L333.2,246.9 L333.3,244.9 L333.4,244.6 L333.6,244.4 L333.7,245.6 L333.9,245.1 L334.0,243.2 L334.2,243.2 L334.3,244.1 L334.5,245.0 L334.6,243.8 L334.8,242.5 L334.9,242.0 L335.1,241.3 L335.2,239.8 L335.3,239.3 L335.5,242.5 L335.6,242.4 L335.8,243.1 L335.9,243.6 L336.1,244.1 L336.2,243.3 L336.4,248.5 L336.5,247.9 L336.7,249.2 L336.8,250.4 L337.0,248.1 L337.1,249.8 L337.3,249.0 L337.4,249.2 L337.6,249.9 L337.7,250.6 L337.9,249.3 L338.0,248.3 L338.2,250.3 L338.3,249.4 L338.5,249.8 L338.6,248.8 L338.8,248.7 L338.9,248.9 L339.1,249.1 L339.2,249.8 L339.4,247.6 L339.5,249.3 L339.7,248.0 L339.8,247.5 L340.0,245.5 L340.1,245.8 L340.3,244.9 L340.4,243.9 L340.6,245.4 L340.7,245.2 L340.9,246.4 L341.0,244.6 L341.2,243.9 L341.3,242.6 L341.5,243.8 L341.6,241.8 L341.8,244.1 L341.9,241.7 L342.1,240.5 L342.2,242.2 L342.4,241.2 L342.5,241.0 L342.7,239.4 L342.8,239.3 L342.9,240.8 L343.1,239.3 L343.2,237.7 L343.4,236.8 L343.5,237.7 L343.7,236.4 L343.8,237.3 L344.0,233.8 L344.1,234.1 L344.3,233.1 L344.4,234.0 L344.6,233.4 L344.7,232.4 L344.8,230.1 L345.0,230.6 L345.1,228.0 L345.3,227.0 L345.4,226.3 L345.6,225.4 L345.7,225.3 L345.9,223.7 L346.0,223.0 L346.1,221.0 L346.3,223.1 L346.4,222.3 L346.6,222.8 L346.8,220.4 L346.9,217.9 L347.1,217.9 L347.2,215.7 L347.4,214.5 L347.5,215.1 L347.6,212.9 L347.8,213.9 L347.9,213.4 L348.1,211.7 L348.2,210.4 L348.4,210.0 L348.5,210.4 L348.7,208.9 L348.8,209.1 L349.0,208.7 L349.1,208.9 L349.3,207.0 L349.4,208.5 L349.6,205.9 L349.7,209.7 L349.9,207.2 L350.0,204.1 L350.2,201.0 L350.3,201.4 L350.5,201.5 L350.6,197.4 L350.8,196.4 L350.9,196.0 L351.1,193.1 L351.2,191.7 L351.4,187.7 L351.6,184.2 L351.7,181.0 L351.9,177.4 L352.0,174.0 L352.2,170.5 L352.3,172.0 L352.5,171.7 L352.6,176.2 L352.8,177.1 L352.9,177.7 L353.1,179.0 L353.2,181.7 L353.4,182.8 L353.5,183.1 L353.7,185.0 L353.8,185.2 L354.0,187.2 L354.1,186.2 L354.2,184.5 L354.4,184.8 L354.5,184.6 L354.7,183.1 L354.8,183.4 L355.0,182.1 L355.1,179.7 L355.3,178.5 L355.4,176.8 L355.6,176.3 L355.7,175.4 L355.9,175.8 L356.0,173.4 L356.1,169.8 L356.3,168.0 L356.4,162.9 L356.6,156.7 L356.8,155.0 L356.9,148.7 L357.0,152.4 L357.2,153.6 L357.3,153.5 L357.5,153.4 L357.6,152.3 L357.8,153.9 L357.9,155.2 L358.1,155.8 L358.2,158.1 L358.4,158.4 L358.5,159.8 L358.7,161.6 L358.8,162.8 L358.9,161.6 L359.1,160.8 L359.2,158.5 L359.4,157.5 L359.5,155.9 L359.7,155.8 L359.8,153.4 L360.0,153.5 L360.1,154.5 L360.3,151.6 L360.4,150.6 L360.6,148.3 L360.7,147.7 L360.9,147.3 L361.0,146.5 L361.2,148.0 L361.3,147.5 L361.5,146.2 L361.6,146.6 L361.8,144.7 L361.9,144.1 L362.1,145.6 L362.2,144.6 L362.4,143.1 L362.5,143.9 L362.7,142.0 L362.8,142.1 L363.0,141.5 L363.1,143.0 L363.3,142.1 L363.4,142.9 L363.6,142.4 L363.7,142.4 L363.9,146.0 L364.0,144.7 L364.2,146.9 L364.3,148.5 L364.5,149.9 L364.6,153.5 L364.8,155.4 L364.9,155.6 L365.1,155.4 L365.2,156.7 L365.4,159.4 L365.5,158.8 L365.6,157.2 L365.8,158.1 L365.9,155.0 L366.1,152.2 L366.2,149.2 L366.4,148.5 L366.5,152.2 L366.7,153.8 L366.8,154.1 L367.0,154.9 L367.1,155.4 L367.3,156.1 L367.4,156.6 L367.6,160.7 L367.7,160.4 L367.9,163.9 L368.0,163.8 L368.2,166.2 L368.3,167.2 L368.4,170.6 L368.6,173.4 L368.8,177.6 L368.9,179.9 L369.1,184.3 L369.2,187.2 L369.3,185.6 L369.5,185.2 L369.6,183.5 L369.8,182.2 L369.9,182.1 L370.1,181.7 L370.2,181.5 L370.4,178.5 L370.5,177.6 L370.7,176.2 L370.8,174.8 L371.0,171.6 L371.1,171.0 L371.2,173.2 L371.4,174.0 L371.5,173.4 L371.7,176.2 L371.8,174.8 L372.0,177.6 L372.1,178.5 L372.3,181.6 L372.4,183.5 L372.6,184.6 L372.7,186.6 L372.9,186.7 L373.0,187.4 L373.1,185.2 L373.3,184.3 L373.4,182.3 L373.6,183.2 L373.7,182.1 L373.9,182.6 L374.0,181.7 L374.2,180.2 L374.3,179.7 L374.5,180.8 L374.6,178.9 L374.8,178.0 L374.9,179.0 L375.0,177.4 L375.2,178.5 L375.3,177.5 L375.5,176.3 L375.6,173.6 L375.8,173.3 L375.9,174.3 L376.1,175.0 L376.2,172.0 L376.4,171.1 L376.5,171.7 L376.7,169.5 L376.8,168.6 L377.0,169.8 L377.1,168.2 L377.3,168.5 L377.4,167.3 L377.6,168.0 L377.7,166.0 L377.9,166.8 L378.0,164.3 L378.2,163.7 L378.3,164.2 L378.5,162.9 L378.6,162.9 L378.8,161.3 L378.9,160.9 L379.1,161.3 L379.2,160.0 L379.4,157.9 L379.5,159.2 L379.7,157.1 L379.8,155.5 L380.0,156.2 L380.1,156.3 L380.3,158.5 L380.4,157.9 L380.6,160.4 L380.7,160.0 L380.9,162.1 L381.0,162.3 L381.2,164.0 L381.3,166.4 L381.5,167.5 L381.6,167.4 L381.7,166.1 L381.9,164.8 L382.0,165.3 L382.2,162.5 L382.3,163.3 L382.5,162.2 L382.6,161.9 L382.8,161.6 L382.9,159.6 L383.1,159.5 L383.2,160.3 L383.4,158.3 L383.5,157.5 L383.7,157.3 L383.8,156.1 L384.0,156.2 L384.1,154.3 L384.3,153.9 L384.4,150.1 L384.6,151.7 L384.7,151.3 L384.9,152.3 L385.0,150.4 L385.2,149.5 L385.3,147.5 L385.5,148.3 L385.6,148.2 L385.8,149.2 L385.9,148.3 L386.1,146.8 L386.2,145.9 L386.4,144.2 L386.5,144.0 L386.7,142.8 L386.8,142.2 L387.0,143.1 L387.1,142.3 L387.3,141.8 L387.4,139.9 L387.6,139.5 L387.7,138.0 L387.9,139.2 L388.0,138.3 L388.2,138.1 L388.3,139.9 L388.5,140.5 L388.6,141.4 L388.8,143.2 L388.9,145.0 L389.1,146.8 L389.2,147.6 L389.4,144.2 L389.6,145.8 L389.7,147.7 L389.9,147.9 L390.0,148.1 L390.2,150.7 L390.3,151.6 L390.5,152.4 L390.6,153.8 L390.8,156.8 L390.9,159.1 L391.1,160.6 L391.2,161.4 L391.4,163.4 L391.5,164.0 L391.7,166.0 L391.8,166.4 L392.0,166.3 L392.1,162.0 L392.3,162.8 L392.4,160.4 L392.6,157.9 L392.8,156.5 L392.9,154.3 L393.1,153.3 L393.2,154.6 L393.4,155.8 L393.5,157.2 L393.7,158.6 L393.8,159.8 L394.0,160.3 L394.1,160.6 L394.3,161.6 L394.4,161.1 L394.6,162.3 L394.7,162.3 L394.9,163.8 L395.0,163.3 L395.2,162.5 L395.3,162.4 L395.5,162.7 L395.6,163.9 L395.8,164.5 L395.9,163.8 L396.1,165.3 L396.2,167.6 L396.4,169.9 L396.5,170.9 L396.7,170.3 L396.8,170.4 L397.0,170.9 L397.1,172.3 L397.3,175.5 L397.4,175.8 L397.6,179.8 L397.7,179.2 L397.8,179.5 L398.0,176.8 L398.1,174.9 L398.3,175.4 L398.4,172.6 L398.6,171.2 L398.8,170.4 L398.9,171.7 L399.1,169.4 L399.2,168.0 L399.4,165.7 L399.5,163.7 L399.7,165.0 L399.8,166.7 L400.0,164.3 L400.1,165.2 L400.3,165.5 L400.4,167.1 L400.6,166.7 L400.7,168.3 L400.9,170.4 L401.0,171.4 L401.2,172.5 L401.3,171.9 L401.5,172.0 L401.6,175.2 L401.8,176.2 L401.9,175.8 L402.0,174.8 L402.2,175.0 L402.3,173.9 L402.5,173.7 L402.6,170.8 L402.8,171.9 L402.9,169.9 L403.1,168.6 L403.2,166.0 L403.4,163.7 L403.5,164.2 L403.7,163.4 L403.8,162.8 L403.9,162.0 L404.1,164.5 L404.2,159.6 L404.4,160.1 L404.6,161.9 L404.7,161.4 L404.9,162.5 L405.0,162.0 L405.2,162.8 L405.3,160.3 L405.5,162.1 L405.6,161.7 L405.8,164.2 L405.9,164.2 L406.1,164.1 L406.2,166.3 L406.4,166.1 L406.5,166.2 L406.7,166.2 L406.8,167.5 L407.0,167.7 L407.1,167.9 L407.3,167.5 L407.4,169.1 L407.6,169.0 L407.8,168.1 L407.9,168.2 L408.1,169.4 L408.2,171.7 L408.4,170.9 L408.5,169.9 L408.7,171.0 L408.8,171.5 L408.9,172.9 L409.1,172.5 L409.2,173.4 L409.4,173.4 L409.6,176.3 L409.7,175.9 L409.9,176.1 L410.0,175.0 L410.2,175.9 L410.3,176.7 L410.5,181.9 L410.6,188.6 L410.8,195.6 L410.9,195.0 L411.1,192.5 L411.2,190.8 L411.4,190.1 L411.5,188.6 L411.7,187.5 L411.8,184.8 L411.9,183.9 L412.1,186.1 L412.2,185.4 L412.4,188.0 L412.6,187.6 L412.7,188.3 L412.9,187.9 L413.0,185.7 L413.2,188.5 L413.3,187.1 L413.5,190.6 L413.6,192.3 L413.8,194.1 L413.9,196.7 L414.1,198.6 L414.2,201.5 L414.4,203.5 L414.5,205.7 L414.7,207.4 L414.9,211.4 L415.0,211.8 L415.1,215.8 L415.3,216.3 L415.5,216.5 L415.6,215.2 L415.8,212.5 L415.9,211.2 L416.1,209.8 L416.2,207.2 L416.4,207.0 L416.5,209.0 L416.7,209.3 L416.8,208.7 L417.0,207.8 L417.1,207.5 L417.3,206.3 L417.4,207.4 L417.6,205.9 L417.8,203.2 L417.9,203.6 L418.1,201.8 L418.2,203.1 L418.4,201.8 L418.5,201.7 L418.7,200.7 L418.8,199.8 L419.0,200.7 L419.1,199.4 L419.3,202.1 L419.4,200.8 L419.6,200.7 L419.7,200.3 L419.9,199.2 L420.0,199.5 L420.2,198.6 L420.3,199.6 L420.5,198.1 L420.6,199.2 L420.8,199.5 L420.9,198.2 L421.1,197.8 L421.2,198.5 L421.4,198.5 L421.6,199.4 L421.7,198.6 L421.8,200.1 L422.0,201.1 L422.1,202.8 L422.3,201.8 L422.4,203.4 L422.6,204.6 L422.8,205.0 L422.9,206.1 L423.1,207.6 L423.2,207.2 L423.3,209.4 L423.5,210.4 L423.6,211.7 L423.8,211.5 L423.9,210.5 L424.1,211.3 L424.2,211.0 L424.4,212.3 L424.6,211.1 L424.7,211.2 L424.8,212.3 L425.0,209.6 L425.1,210.0 L425.3,209.9 L425.4,212.2 L425.6,212.7 L425.8,209.7 L425.9,210.3 L426.1,209.9 L426.2,210.3 L426.3,212.7 L426.5,212.6 L426.6,210.4 L426.8,210.8 L426.9,210.2 L427.1,211.1 L427.2,210.8 L427.4,212.0 L427.6,213.1 L427.7,213.7 L427.9,213.5 L428.0,210.1 L428.2,211.4 L428.3,211.3 L428.5,211.8 L428.6,208.3 L428.8,210.6 L428.9,209.7 L429.1,208.3 L429.2,209.8 L429.4,209.4 L429.5,209.4 L429.7,208.0 L429.8,207.7 L430.0,208.1 L430.1,206.3 L430.3,205.8 L430.4,207.8 L430.6,207.8 L430.8,209.5 L430.9,208.6 L431.1,212.0 L431.2,212.0 L431.4,212.5 L431.5,214.4 L431.6,213.2 L431.8,215.5 L431.9,217.8 L432.1,215.1 L432.2,219.0 L432.4,218.9 L432.6,219.8 L432.7,220.5 L432.9,219.6 L433.0,222.0 L433.1,223.2 L433.3,221.6 L433.4,221.3 L433.6,220.7 L433.8,221.6 L433.9,220.1 L434.1,221.7 L434.2,220.5 L434.4,222.0 L434.5,220.8 L434.7,221.6 L434.8,220.7 L435.0,220.0 L435.1,221.4 L435.3,220.0 L435.4,220.7 L435.6,220.7 L435.7,219.6 L435.9,218.3 L436.0,218.4 L436.2,218.3 L436.3,218.5 L436.5,220.1 L436.6,218.2 L436.8,219.9 L437.0,220.8 L437.1,220.4 L437.3,222.3 L437.4,220.9 L437.6,221.3 L437.7,221.1 L437.9,221.1 L438.0,220.3 L438.2,221.3 L438.3,219.4 L438.5,219.6 L438.6,219.2 L438.8,219.3 L438.9,219.8 L439.1,220.3 L439.2,219.9 L439.4,216.0 L439.6,216.4 L439.7,213.5 L439.9,211.3 L440.0,208.8 L440.2,208.2 L440.3,206.0 L440.5,204.6 L440.6,203.8 L440.8,203.4 L440.9,202.1 L441.1,203.9 L441.2,202.1 L441.4,202.0 L441.5,201.4 L441.7,201.5 L441.8,203.5 L442.0,200.4 L442.1,199.0 L442.3,198.3 L442.4,199.7 L442.6,198.4 L442.7,197.8 L442.9,198.0 L443.0,198.9 L443.2,200.0 L443.3,198.4 L443.5,199.4 L443.6,199.5 L443.8,197.0 L443.9,200.8 L444.1,198.8 L444.2,199.9 L444.4,200.1 L444.5,201.5 L444.7,199.9 L444.8,199.3 L445.0,200.4 L445.1,200.7 L445.3,200.6 L445.4,200.6 L445.6,202.6 L445.8,202.3 L445.9,205.0 L446.0,203.9 L446.2,203.1 L446.3,202.5 L446.5,199.4 L446.6,196.3 L446.8,194.9 L446.9,196.1 L447.1,192.9 L447.2,190.7 L447.4,190.7 L447.6,190.3 L447.7,189.9 L447.9,192.5 L448.0,190.6 L448.2,188.7 L448.3,189.4 L448.5,188.5 L448.6,188.2 L448.8,188.3 L448.9,187.5 L449.1,188.8 L449.2,189.9 L449.4,189.2 L449.5,189.2 L449.7,186.1 L449.8,187.9 L450.0,187.8 L450.1,188.1 L450.3,187.7 L450.4,188.7 L450.6,188.6 L450.8,187.2 L450.9,188.5 L451.1,187.2 L451.2,186.7 L451.3,186.0 L451.5,187.8 L451.6,186.4 L451.8,186.8 L451.9,185.9 L452.1,187.1 L452.2,187.1 L452.4,187.4 L452.6,188.8 L452.7,190.9 L452.9,192.7 L453.0,192.6 L453.2,193.1 L453.3,192.0 L453.5,190.3 L453.6,189.5 L453.8,190.5 L453.9,188.6 L454.1,190.2 L454.2,188.8 L454.4,190.3 L454.5,190.5 L454.7,189.5 L454.8,191.6 L455.0,192.9 L455.2,193.6 L455.3,193.5 L455.5,192.5 L455.6,192.7 L455.8,193.0 L455.9,192.8 L456.1,196.0 L456.2,194.6 L456.4,195.7 L456.5,196.2 L456.7,193.5 L456.8,193.9 L457.0,192.5 L457.1,194.1 L457.3,196.2 L457.4,196.5 L457.6,193.6 L457.7,195.6 L457.9,194.3 L458.0,192.8 L458.2,192.7 L458.3,190.9 L458.5,189.9 L458.6,191.7 L458.8,191.3 L458.9,188.4 L459.1,190.2 L459.2,188.5 L459.4,187.9 L459.5,186.9 L459.7,185.2 L459.8,185.2 L460.0,183.6 L460.1,184.6 L460.3,186.2 L460.4,188.6 L460.6,187.4 L460.7,186.4 L460.9,186.9 L461.0,183.7 L461.2,186.0 L461.3,185.8 L461.5,185.9 L461.6,185.5 L461.8,185.2 L462.0,186.9 L462.1,187.0 L462.3,186.7 L462.4,186.7 L462.6,188.3 L462.7,187.7 L462.9,188.4 L463.0,188.8 L463.2,188.6 L463.3,189.3 L463.5,187.3 L463.6,187.7 L463.8,188.1 L463.9,186.5 L464.1,188.7 L464.2,188.1 L464.4,188.6 L464.6,188.2 L464.7,188.9 L464.9,190.4 L465.0,191.3 L465.2,192.3 L465.3,193.1 L465.5,191.6 L465.6,194.6 L465.8,192.6 L465.9,194.1 L466.1,194.2 L466.2,194.6 L466.4,195.7 L466.5,194.2 L466.7,195.7 L466.8,194.3 L467.0,196.8 L467.1,194.6 L467.3,194.4 L467.4,194.7 L467.6,195.0 L467.7,197.9 L467.9,196.6 L468.0,196.0 L468.2,196.8 L468.3,196.2 L468.5,196.8 L468.6,196.8 L468.8,194.7 L468.9,193.3 L469.1,194.4 L469.2,193.9 L469.4,194.0 L469.6,193.1 L469.7,191.6 L469.9,192.5 L470.0,193.6 L470.2,192.5 L470.3,193.4 L470.5,193.2 L470.6,192.4 L470.8,192.5 L470.9,193.6 L471.1,191.2 L471.2,190.2 L471.4,191.4 L471.5,190.7 L471.7,191.3 L471.8,191.2 L472.0,191.4 L472.1,189.2 L472.3,187.6 L472.4,185.2 L472.6,184.6 L472.8,183.0 L472.9,184.1 L473.1,182.9 L473.2,180.7 L473.3,177.6 L473.5,176.7 L473.6,177.4 L473.8,176.4 L473.9,176.8 L474.1,177.4 L474.2,178.6 L474.4,177.6 L474.6,178.6 L474.7,175.2 L474.9,177.3 L475.0,176.7 L475.2,177.1 L475.3,176.5 L475.5,175.7 L475.6,176.9 L475.8,174.6 L475.9,174.7 L476.1,173.8 L476.2,173.4 L476.4,173.7 L476.6,175.1 L476.7,175.5 L476.8,175.6 L477.0,173.9 L477.1,174.0 L477.3,175.1 L477.4,173.5 L477.6,173.6 L477.8,172.4 L477.9,173.3" fill="none" stroke="#000" stroke-width="1.1" stroke-linejoin="round"/><path d="M477.9,172.9 L478.0,173.3 L478.2,174.0 L478.3,174.4 L478.5,173.1 L478.6,174.6 L478.8,174.8 L478.9,173.9 L479.1,171.8 L479.2,170.7 L479.3,169.0 L479.5,169.4 L479.6,168.3 L479.8,168.6 L479.9,167.9 L480.1,167.4 L480.2,166.7 L480.4,164.3 L480.5,165.8 L480.7,167.0 L480.8,166.8 L481.0,167.2 L481.1,166.2 L481.3,167.1 L481.4,169.2 L481.6,167.5 L481.7,167.9 L481.8,166.4 L482.0,164.5 L482.1,163.3 L482.3,162.3 L482.4,163.7 L482.6,162.3 L482.7,162.6 L482.9,160.0 L483.0,159.9 L483.2,160.7 L483.3,160.4 L483.4,160.0 L483.6,161.6 L483.7,163.0 L483.9,160.5 L484.0,163.3 L484.2,163.1 L484.3,161.3 L484.5,163.1 L484.6,162.2 L484.8,162.7 L484.9,165.7 L485.1,165.1 L485.2,166.4 L485.4,166.2 L485.5,167.3 L485.7,165.9 L485.8,164.6 L486.0,164.7 L486.1,164.4 L486.3,164.0 L486.4,162.3 L486.6,164.1 L486.7,164.1 L486.9,163.0 L487.0,162.0 L487.2,160.9 L487.3,162.9 L487.5,162.7 L487.7,164.4 L487.8,161.9 L488.0,163.1 L488.1,162.3 L488.3,165.8 L488.4,163.8 L488.6,165.5 L488.7,165.6 L488.9,166.5 L489.0,164.0 L489.2,163.7 L489.3,164.4 L489.5,165.0 L489.6,164.3 L489.8,164.9 L489.9,164.8 L490.1,164.8 L490.2,166.2 L490.4,165.5 L490.5,167.3 L490.7,167.8 L490.8,168.8 L490.9,169.2 L491.1,168.4 L491.2,168.6 L491.4,168.6 L491.5,169.8 L491.7,167.8 L491.8,169.1 L492.0,168.6 L492.1,167.7 L492.2,165.9 L492.4,167.7 L492.6,164.8 L492.7,164.7 L492.9,166.1 L493.0,167.7 L493.1,167.9 L493.3,167.9 L493.4,167.3 L493.6,167.1 L493.8,167.0 L493.9,165.3 L494.1,165.8 L494.2,164.1 L494.4,164.6 L494.5,165.7 L494.7,167.0 L494.8,167.9 L495.0,169.1 L495.2,171.0 L495.3,168.9 L495.5,169.9 L495.6,171.4 L495.8,171.4 L495.9,170.4 L496.1,173.1 L496.2,172.8 L496.4,172.4 L496.5,172.9 L496.7,171.7 L496.8,171.0 L497.0,171.1 L497.1,171.3 L497.3,172.8 L497.4,172.2 L497.6,171.7 L497.7,170.6 L497.9,168.8 L498.0,169.8 L498.2,170.9 L498.3,171.1 L498.5,168.6 L498.6,168.8 L498.8,169.7 L498.9,172.1 L499.1,170.1 L499.2,172.7 L499.4,173.8 L499.5,174.5 L499.7,173.3 L499.8,172.5 L500.0,171.1 L500.2,171.9 L500.3,170.9 L500.5,170.8 L500.6,169.9 L500.8,169.1 L500.9,168.5 L501.1,170.1 L501.2,170.6 L501.4,169.0 L501.5,169.8 L501.7,168.9 L501.8,168.5 L502.0,170.0 L502.1,167.4 L502.3,165.5 L502.4,163.7 L502.6,163.6 L502.8,164.7 L502.9,164.5 L503.0,163.5 L503.2,162.5 L503.3,161.4 L503.5,160.2 L503.6,160.0 L503.8,159.2 L503.9,159.1 L504.1,159.7 L504.2,157.0 L504.3,157.8 L504.5,157.2 L504.6,156.2 L504.8,155.7 L504.9,157.5 L505.1,154.1 L505.2,154.6 L505.4,152.9 L505.6,150.7 L505.7,151.0 L505.9,150.9 L506.0,150.5 L506.2,149.7 L506.3,149.8 L506.5,149.0 L506.6,148.5 L506.8,150.1 L506.9,151.9 L507.1,149.3 L507.2,149.2 L507.4,150.0 L507.6,148.5 L507.7,147.2 L507.9,146.5 L508.0,146.5 L508.2,145.6 L508.3,144.3 L508.5,143.0 L508.6,139.8 L508.8,135.2 L509.0,137.1 L509.1,138.5 L509.3,139.0 L509.4,140.1 L509.6,139.8 L509.7,138.1 L509.9,135.7 L510.0,134.3 L510.2,134.1 L510.3,131.6 L510.4,132.6 L510.6,133.2 L510.8,132.9 L510.9,135.4 L511.1,134.4 L511.2,136.2 L511.4,134.6 L511.5,133.6 L511.6,131.0 L511.8,127.8 L512.0,128.1 L512.1,129.0 L512.3,128.2 L512.4,131.0 L512.6,132.0 L512.8,128.1 L512.9,126.4 L513.1,122.3 L513.2,121.1 L513.4,122.3 L513.5,122.9 L513.6,127.3 L513.8,127.6 L514.0,123.4 L514.1,118.6 L514.3,115.2 L514.4,111.3 L514.6,107.1 L514.8,110.7 L514.9,112.8 L515.1,115.6 L515.2,117.5 L515.4,117.2 L515.5,113.8 L515.6,111.1 L515.8,110.1 L516.0,115.4 L516.1,119.6 L516.3,123.0" fill="none" stroke="#1f55e8" stroke-width="1.05" stroke-linejoin="round"/></g><text x="173.6" y="418" class="bo" textLength="43.6" lengthAdjust="spacingAndGlyphs">Breakout</text><text x="345.2" y="250" class="bo" textLength="43.6" lengthAdjust="spacingAndGlyphs">Breakout</text><text x="507.4" y="175" class="bo" textLength="43.6" lengthAdjust="spacingAndGlyphs">Breakout</text><text x="94.8" y="370.5" class="pct" textLength="26.60000000000001" lengthAdjust="spacingAndGlyphs">-35%</text><text x="267.7" y="207.6" class="pct" textLength="27" lengthAdjust="spacingAndGlyphs">-30%</text><text x="433.59999999999997" y="132.4" class="pct" textLength="26.80000000000001" lengthAdjust="spacingAndGlyphs">-28%</text><rect x="130.9" y="11.9" width="54" height="17.1" fill="#000"/><text x="134.1" y="24.6" class="hv" textLength="47.5" lengthAdjust="spacingAndGlyphs">HALVING</text><rect x="296.9" y="11.9" width="54" height="17.1" fill="#000"/><text x="300.09999999999997" y="24.6" class="hv" textLength="47.5" lengthAdjust="spacingAndGlyphs">HALVING</text><rect x="466.9" y="11.9" width="54" height="17.1" fill="#000"/><text x="470.09999999999997" y="24.6" class="hv" textLength="47.5" lengthAdjust="spacingAndGlyphs">HALVING</text><rect x="142.8" y="503.2" width="29" height="10.6" fill="#000"/><text x="146.5" y="510.9" class="db" textLength="21.6" lengthAdjust="spacingAndGlyphs">11 Jul '16</text><rect x="307.7" y="503.2" width="31.3" height="10.6" fill="#000"/><text x="311.4" y="510.9" class="db" textLength="23.9" lengthAdjust="spacingAndGlyphs">08 May '20</text><rect x="479" y="503.2" width="29.9" height="10.6" fill="#000"/><text x="482.7" y="510.9" class="db" textLength="22.5" lengthAdjust="spacingAndGlyphs">12 Apr '24</text><circle cx="478" cy="497.8" r="4.4" fill="#fff" stroke="#7a4a9a" stroke-width="0.8"/><path d="M479.1,495.6 L477,497.9 L479,497.9 L476.9,500.2" fill="none" stroke="#4a2266" stroke-width="0.95"/><rect x="480.2" y="494" width="1.9" height="1.9" fill="#a51b1b"/><text x="20.6" y="55.8" class="title" textLength="109.5" lengthAdjust="spacingAndGlyphs">STOCKMONEY LIZARDS</text>
<g transform="translate(4,519.6)" fill="#e8e8e8">
<text x="9.9" y="5.1" style="font-size:6.4px;fill:#d0d3dc" textLength="30" lengthAdjust="spacingAndGlyphs">TradingView</text>
<path d="M-0.2,1.2 h4.4 v3.8 h-1.6 v-2.3 h-2.8 z M4.9,1.4 a0.8,0.8 0 1,0 0.01,0 z M6.6,1.2 h1.8 l-1.7,3.8 h-1.8 z"/>
</g>
</svg>
</body></html>
